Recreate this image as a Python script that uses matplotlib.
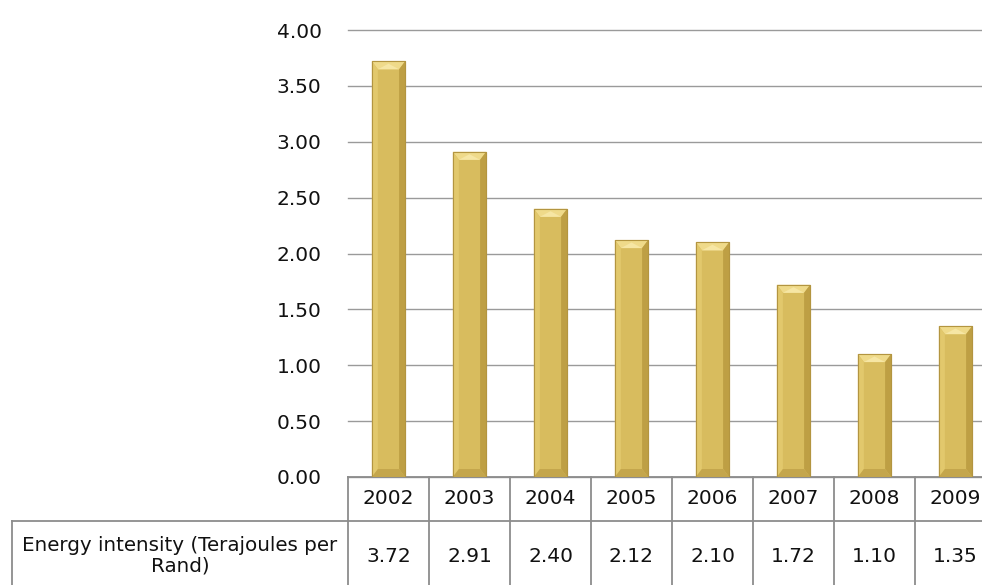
import numpy as np
import matplotlib
matplotlib.use('Agg')
import matplotlib.pyplot as plt
from matplotlib.patches import Rectangle, Polygon
from matplotlib.lines import Line2D
from matplotlib.transforms import blended_transform_factory

years = ['2002', '2003', '2004', '2005', '2006', '2007', '2008', '2009']
intensity = [3.72, 2.91, 2.40, 2.12, 2.10, 1.72, 1.10, 1.35]
row_label = 'Energy intensity (Terajoules per\nRand)'
yticks = [0.0, 0.5, 1.0, 1.5, 2.0, 2.5, 3.0, 3.5, 4.0]

W, H = 982, 585
plt.rcParams['font.family'] = ['DejaVu Sans']
fig = plt.figure(figsize=(W / 100, H / 100), dpi=100)

# plot area runs past the right edge, as in the original
left, bottom, right, top = 348, 477, 996, 30
ax = fig.add_axes([left / W, 1 - bottom / H, (right - left) / W, (bottom - top) / H])
ax.set_xlim(-0.5, len(years) - 0.5)
ax.set_ylim(0, 4)
ax.set_yticks(yticks)
ax.set_yticklabels(['%.2f' % t for t in yticks], fontsize=14.5, color='#111111')
ax.set_xticks([])
ax.tick_params(axis='y', length=0, pad=19)
for s in ax.spines.values():
    s.set_visible(False)
ax.yaxis.grid(True, color='#9a9a9a', lw=1.0)
for gl in ax.get_ygridlines():
    gl.set_clip_on(False)
ax.set_axisbelow(True)

# bevelled gold bars
bw = 0.41
px_x = (right - left) / len(years)   # pixels per category
px_y = (bottom - top) / 4.0          # pixels per unit
dx = 6 / px_x
dy = 8 / px_y
base = '#D8BC5E'
for i, v in enumerate(intensity):
    x0, x1 = i - bw / 2, i + bw / 2
    ax.add_patch(Rectangle((x0 + 0.012, -0.01), bw, v, color='#cfcfcf', alpha=0.5, lw=0, zorder=2))
    ax.add_patch(Rectangle((x0, 0), bw, v, facecolor=base, edgecolor='#b89a44', lw=0.8, zorder=3))
    # top bevel
    ax.add_patch(Polygon([(x0, v), (x1, v), (x1 - dx, v - dy), (x0 + dx, v - dy)],
                         closed=True, facecolor='#EFDA8A', lw=0, zorder=4))
    ax.add_patch(Polygon([(x0 + dx, v - dy), (i, v - 0.3 * dy), (x1 - dx, v - dy)],
                         closed=True, facecolor='#F6E6A4', lw=0, zorder=4))
    # side bevels
    ax.add_patch(Polygon([(x0, 0), (x0, v), (x0 + dx, v - dy), (x0 + dx, dy)],
                         closed=True, facecolor='#E2C86C', lw=0, zorder=4))
    ax.add_patch(Polygon([(x1, 0), (x1, v), (x1 - dx, v - dy), (x1 - dx, dy)],
                         closed=True, facecolor='#BE9F44', lw=0, zorder=4))
    # bottom bevel
    ax.add_patch(Polygon([(x0, 0), (x1, 0), (x1 - dx, dy), (x0 + dx, dy)],
                         closed=True, facecolor='#C4A64C', lw=0, zorder=4))
    ax.add_patch(Rectangle((x0, 0), bw, v, facecolor='none', edgecolor='#b39540', lw=0.8, zorder=5))

# data table under the axis
tr = blended_transform_factory(ax.transData, ax.transAxes)
ax_h = bottom - top
row1 = -44 / ax_h
row_end = -130 / ax_h
gc = '#8c8c8c'
ax.add_line(Line2D([-0.5, len(years) - 0.5], [0, 0], transform=tr, color=gc, lw=1.3, clip_on=False))
ax.add_line(Line2D([-0.5, len(years) - 0.5], [row1, row1], transform=tr, color=gc, lw=1.3, clip_on=False))
for k in range(len(years) + 1):
    ax.add_line(Line2D([k - 0.5, k - 0.5], [0, row_end], transform=tr, color=gc, lw=1.3, clip_on=False))
for i, (yr, v) in enumerate(zip(years, intensity)):
    ax.text(i, -22 / ax_h, yr, transform=tr, ha='center', va='center', fontsize=14.5, color='#111111', clip_on=False)
    ax.text(i, -79 / ax_h, '%.2f' % v, transform=tr, ha='center', va='center', fontsize=14.5, color='#111111', clip_on=False)

# row label cell
lx = 12 / W
ly = 1 - 521 / H
fig.add_artist(Line2D([lx, left / W], [ly, ly], color=gc, lw=1.3))
fig.add_artist(Line2D([lx, lx], [ly, -0.05], color=gc, lw=1.3))
fig.text((12 + left) / 2 / W, 1 - 556 / H, row_label, ha='center', va='center',
         fontsize=14.3, color='#111111', linespacing=1.1)

fig.savefig('out.png', dpi=100)
